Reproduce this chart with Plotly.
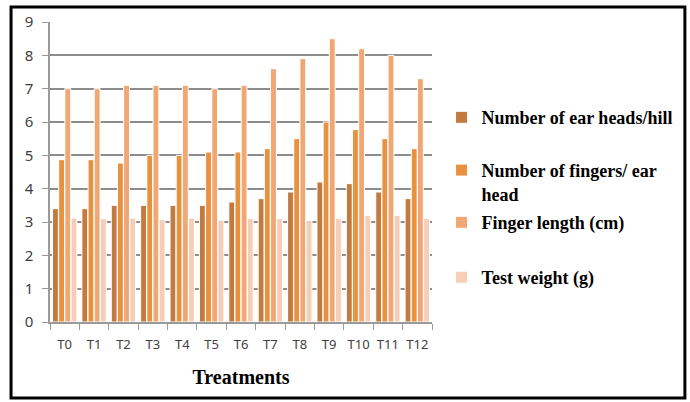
import plotly.graph_objects as go

treatments = ["T0", "T1", "T2", "T3", "T4", "T5", "T6", "T7", "T8", "T9", "T10", "T11", "T12"]
ear_heads = [3.4, 3.4, 3.5, 3.5, 3.5, 3.5, 3.6, 3.7, 3.9, 4.2, 4.15, 3.9, 3.7]
fingers = [4.87, 4.87, 4.77, 5.0, 5.0, 5.1, 5.1, 5.2, 5.5, 6.0, 5.77, 5.5, 5.2]
finger_length = [7.0, 7.0, 7.1, 7.1, 7.1, 7.0, 7.1, 7.6, 7.9, 8.5, 8.2, 8.0, 7.3]
test_weight = [3.12, 3.1, 3.12, 3.08, 3.12, 3.05, 3.1, 3.1, 3.05, 3.1, 3.2, 3.2, 3.1]

series_names = ["Number of ear heads/hill", "Number of fingers/ ear<br>head",
                "Finger length (cm)", "Test weight (g)"]
series_values = [ear_heads, fingers, finger_length, test_weight]
colors = ["#C27A3F", "#E8913F", "#F1A774", "#F6CDB6"]
legend_ids = ["legend", "legend2", "legend3", "legend4"]
legend_y = [0.743, 0.567, 0.393, 0.21]

fig = go.Figure()
for name, vals, col, lid in zip(series_names, series_values, colors, legend_ids):
    fig.add_trace(go.Bar(
        x=treatments, y=vals, name=name, legend=lid,
        marker=dict(color=col, line=dict(color="white", width=1)),
    ))

legend_style = dict(
    x=1.025, xanchor="left", yanchor="top",
    font=dict(family="Liberation Serif", size=18, color="black", weight="bold"),
    valign="top", bgcolor="rgba(0,0,0,0)",
)

fig.update_layout(
    width=690, height=402,
    margin=dict(l=50, r=258, t=22, b=80),
    paper_bgcolor="white", plot_bgcolor="white",
    barmode="group", bargap=0.16, bargroupgap=0.05,
    showlegend=True,
    xaxis=dict(
        type="category", showgrid=False,
        showline=True, linecolor="#9a9a9a", linewidth=1.5,
        ticks="outside", tickson="boundaries", ticklen=6, tickcolor="#9a9a9a",
        tickangle=0, ticklabelstandoff=10,
        tickfont=dict(family="Noto Sans", size=13, color="#404040"),
        title=dict(text="Treatments", standoff=18,
                   font=dict(family="Liberation Serif", size=20, color="black", weight="bold")),
    ),
    yaxis=dict(
        range=[0, 9], dtick=1,
        showgrid=True, gridcolor="#8c8c8c", gridwidth=1.5,
        showline=True, linecolor="#9a9a9a", linewidth=1.5,
        ticks="outside", ticklen=6, tickcolor="#9a9a9a",
        ticklabelstandoff=6,
        tickfont=dict(family="Noto Sans", size=15, color="#404040"),
        zeroline=False,
    ),
    shapes=[dict(type="rect", xref="paper", yref="paper",
                 x0=-0.102, x1=1.662, y0=-0.253, y1=1.05,
                 line=dict(color="black", width=3), layer="above")],
)
for lid, ly in zip(legend_ids, legend_y):
    fig.update_layout({lid: dict(legend_style, y=ly)})

fig.write_html("out.html", config={"displayModeBar": False},
               post_script="document.body.style.margin='0';")
